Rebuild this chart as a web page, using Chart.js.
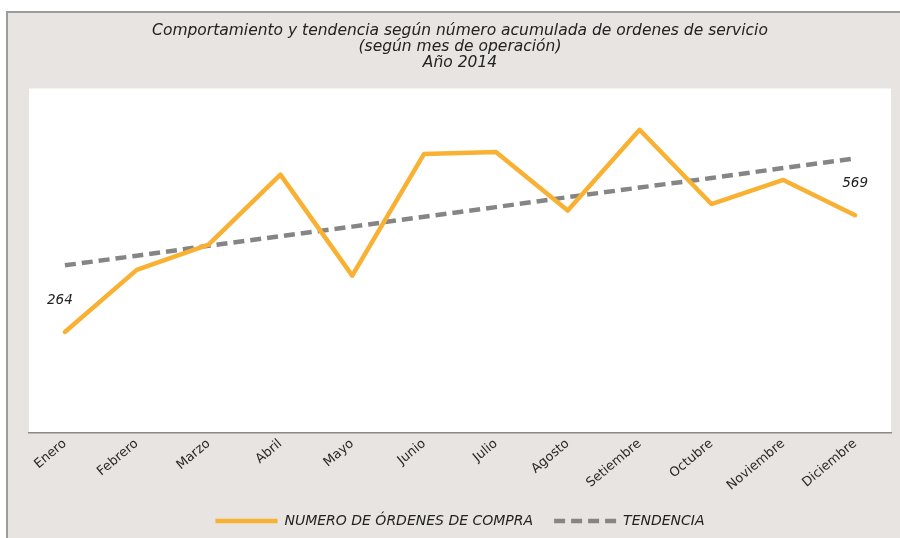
<!DOCTYPE html>
<html>
<head>
<meta charset="utf-8">
<script src="https://cdn.jsdelivr.net/npm/chart.js@4/dist/chart.umd.min.js"></script>
<style>
  html, body { margin: 0; padding: 0; background: #ffffff; }
  #wrap { position: relative; width: 900px; height: 538px; overflow: hidden; }
  #frame { position: absolute; left: 6px; top: 11px; width: 900px; height: 540px;
           background: #e8e4e1; border-top: 2px solid #9c9c9c; border-left: 2px solid #9c9c9c; }
  #c { position: absolute; left: 0; top: 0; }
</style>
</head>
<body>
<div id="wrap">
  <div id="frame"></div>
  <canvas id="c" width="900" height="538"></canvas>
</div>
<script>
const months = ['Enero','Febrero','Marzo','Abril','Mayo','Junio','Julio','Agosto','Setiembre','Octubre','Noviembre','Diciembre'];
const ordenes = [264, 426, 492, 675, 411, 729, 734, 581, 792, 598, 661, 569];
const tendencia = [438, 463, 489, 514, 539, 565, 590, 616, 641, 666, 692, 717];
const titleLines = ['Comportamiento y tendencia según número acumulada de ordenes de servicio', '(según mes de operación)', 'Año 2014'];
const seriesNames = ['NUMERO DE ÓRDENES DE COMPRA', 'TENDENCIA'];

const FONT = "'DejaVu Sans', sans-serif";

const bgPlugin = {
  id: 'plotBg',
  beforeDraw(chart) {
    const a = chart.chartArea, ctx = chart.ctx;
    ctx.save();
    ctx.fillStyle = '#ffffff';
    ctx.fillRect(a.left, a.top, a.right - a.left, a.bottom - a.top);
    ctx.restore();
  }
};

const endLabels = {
  id: 'endLabels',
  afterDatasetsDraw(chart) {
    const meta = chart.getDatasetMeta(0);
    const ctx = chart.ctx;
    ctx.save();
    ctx.font = 'italic 13.5px ' + FONT;
    ctx.fillStyle = '#222';
    ctx.textAlign = 'center';
    ctx.textBaseline = 'middle';
    const first = meta.data[0], last = meta.data[meta.data.length - 1];
    ctx.fillText(String(ordenes[0]), first.x - 5, first.y - 31);
    ctx.fillText(String(ordenes[ordenes.length - 1]), last.x, last.y - 32);
    ctx.restore();
  }
};

new Chart(document.getElementById('c'), {
  type: 'line',
  data: {
    labels: months,
    datasets: [
      { label: seriesNames[0], data: ordenes, borderColor: '#f8b133', backgroundColor: '#f8b133',
        borderWidth: 4.5, pointRadius: 0, tension: 0, borderJoinStyle: 'round', borderCapStyle: 'round' },
      { label: seriesNames[1], data: tendencia, borderColor: '#858585', backgroundColor: '#858585',
        borderWidth: 4.5, borderDash: [11, 6], pointRadius: 0, tension: 0 }
    ]
  },
  options: {
    responsive: false,
    animation: false,
    devicePixelRatio: 1,
    layout: { padding: { left: 29, right: 9, top: 0, bottom: 0 } },
    scales: {
      x: {
        offset: true,
        grid: { display: false, drawTicks: false },
        border: { display: true, color: '#8a8a8a', width: 1.5 },
        ticks: { color: '#2a2a2a', font: { family: FONT, size: 13 }, maxRotation: 40, minRotation: 40, padding: 3, autoSkip: false },
        afterFit(scale) { scale.height = 60; }
      },
      y: { display: false, min: 0, max: 900 }
    },
    plugins: {
      title: {
        display: true, text: titleLines, color: '#222',
        font: { family: FONT, size: 15.5, style: 'italic', weight: 'normal', lineHeight: 1.02 },
        padding: { top: 23, bottom: 18 }
      },
      legend: {
        position: 'bottom',
        labels: {
          usePointStyle: true, pointStyle: 'line', pointStyleWidth: 62,
          color: '#222', font: { family: FONT, size: 14, style: 'italic' }, padding: 21,
          generateLabels(chart) {
            const items = Chart.defaults.plugins.legend.labels.generateLabels(chart);
            items.forEach((it, i) => {
              const ds = chart.data.datasets[i];
              it.lineDash = ds.borderDash || [];
              it.lineWidth = 4.5;
              it.strokeStyle = ds.borderColor;
              it.fillStyle = ds.borderColor;
              it.pointStyle = 'line';
            });
            return items;
          }
        }
      },
      tooltip: { enabled: false }
    }
  },
  plugins: [bgPlugin, endLabels]
});
</script>
</body>
</html>
